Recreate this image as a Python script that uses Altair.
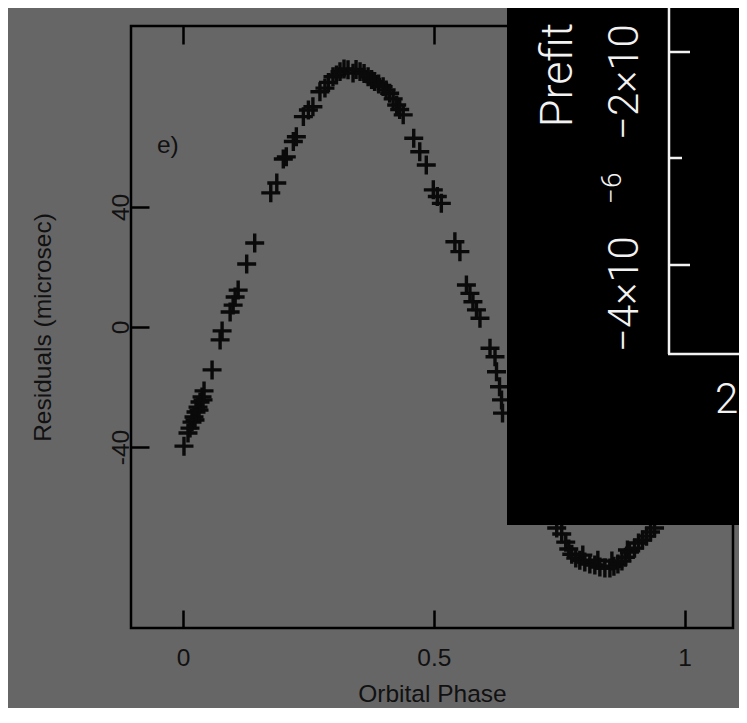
import altair as alt
import pandas as pd

# ---- data (orbital phase, residuals in microsec) ----
phase = [0.002, 0.010, 0.014, 0.018, 0.022, 0.024, 0.026, 0.030, 0.032, 0.034, 0.038, 0.040, 0.042,
         0.058, 0.074, 0.078, 0.094, 0.100, 0.104, 0.110, 0.127, 0.143,
         0.175, 0.187, 0.200, 0.206, 0.220, 0.226, 0.240, 0.250, 0.259, 0.273, 0.283, 0.290,
         0.299, 0.306, 0.313, 0.321, 0.329, 0.339, 0.345, 0.353, 0.361, 0.369, 0.376, 0.382,
         0.390, 0.399, 0.405, 0.412, 0.419, 0.426, 0.432, 0.439,
         0.460, 0.472, 0.485, 0.499, 0.507, 0.515, 0.542, 0.552,
         0.565, 0.572, 0.578, 0.585, 0.592, 0.612, 0.622, 0.625, 0.631, 0.635, 0.637,
         0.745, 0.755, 0.763, 0.769, 0.775, 0.783, 0.791, 0.797, 0.801, 0.811, 0.821, 0.827,
         0.831, 0.841, 0.851, 0.855, 0.859, 0.867, 0.875, 0.882, 0.886, 0.890, 0.900, 0.908,
         0.916, 0.924, 0.932, 0.940]
resid = [-39.7, -35.3, -33.7, -31.7, -30.0, -31.0, -28.3, -26.7, -27.7, -25.0, -23.3, -24.3, -21.3,
         -14.3, -4.3, -1.3, 5.0, 7.3, 10.0, 12.3, 21.0, 28.0,
         44.7, 48.0, 56.0, 56.7, 61.8, 63.4, 70.1, 72.3, 73.4, 78.4, 79.6, 81.5,
         83.4, 84.0, 85.1, 86.0, 85.7, 84.6, 85.8, 85.1, 84.5, 83.4, 82.5, 81.8,
         81.0, 80.1, 79.0, 77.9, 76.0, 74.0, 72.5, 70.7,
         62.9, 58.4, 54.0, 45.7, 43.5, 41.2, 28.4, 25.1,
         14.0, 11.2, 8.4, 5.7, 2.9, -7.1, -9.9, -14.9, -19.9, -24.3, -28.7,
         -67.0, -69.0, -71.7, -74.0, -75.7, -77.0, -77.7, -76.0, -78.3, -79.0, -79.3, -77.7,
         -80.0, -80.3, -80.3, -78.0, -79.7, -79.0, -78.0, -76.7, -74.3, -75.0, -73.7, -72.0,
         -71.0, -69.7, -68.3, -67.0]

x_ticks = [0, 0.5, 1]
y_ticks = [-40, 0, 40]
panel_label = ["e)"]
panel_label_x = [-0.052]
panel_label_y = [58]

df = pd.DataFrame({"phase": phase, "resid": resid})
lab = pd.DataFrame({"phase": panel_label_x, "resid": panel_label_y, "txt": panel_label})
one = pd.DataFrame({"k": [0]})

TXT = "#111111"
FONT = "Liberation Sans"
FS = 24.5

xscale = alt.Scale(domain=[-0.1036, 1.0964], nice=False, zero=False)
yscale = alt.Scale(domain=[-100.3, 100.3], nice=False, zero=False)

points = alt.Chart(df).mark_point(
    shape="M-1,0L1,0M0,-1L0,1", filled=False, size=360, strokeWidth=3.4,
    color="#0a0a0a", opacity=1
).encode(
    x=alt.X("phase:Q", scale=xscale,
            axis=alt.Axis(orient="bottom", values=x_ticks, labelExpr="datum.value",
                          offset=-18, tickSize=18, tickWidth=2.5, tickColor="black",
                          domain=False, grid=False, labelPadding=37,
                          labelBaseline="alphabetic", labelFont=FONT, labelFontSize=FS,
                          labelColor=TXT, title="Orbital Phase", titleFont=FONT,
                          titleFontSize=FS, titleFontWeight="normal", titleColor=TXT,
                          titleBaseline="alphabetic", titleY=91)),
    y=alt.Y("resid:Q", scale=yscale,
            axis=alt.Axis(orient="left", values=y_ticks, labelExpr="datum.value",
                          offset=-18, tickSize=18, tickWidth=2.5, tickColor="black",
                          domain=False, grid=False, labelPadding=3, labelAngle=270,
                          labelAlign="center", labelBaseline="alphabetic",
                          labelFont=FONT, labelFontSize=FS, labelColor=TXT,
                          title="Residuals (microsec)", titleFont=FONT, titleFontSize=FS,
                          titleFontWeight="normal", titleColor=TXT, titleAngle=270,
                          titleAlign="center", titleBaseline="alphabetic",
                          titleX=-99, titleY=301)),
)

label = alt.Chart(lab).mark_text(
    align="left", baseline="alphabetic", font=FONT, fontSize=FS, color=TXT
).encode(
    x=alt.X("phase:Q", scale=xscale,
            axis=alt.Axis(orient="top", values=x_ticks, offset=-18, tickSize=18,
                          tickWidth=2.5, tickColor="black", labels=False,
                          domain=False, grid=False, title=None)),
    y=alt.Y("resid:Q", scale=yscale, axis=None),
    text="txt:N",
)

# ---- pasted black inset (overlay decoration) ----
WHITE = "#f2f2f2"
IFONT = "Roboto"
inset_bg = alt.Chart(one).mark_rect(color="black").encode(
    x=alt.value(376), x2=alt.value(640), y=alt.value(-40), y2=alt.value(499))
inset_v = alt.Chart(one).mark_rule(color=WHITE, strokeWidth=2.5).encode(
    x=alt.value(538), y=alt.value(-40), y2=alt.value(328))
inset_h = alt.Chart(one).mark_rule(color=WHITE, strokeWidth=2.5).encode(
    y=alt.value(328), x=alt.value(537), x2=alt.value(640))
inset_t1 = alt.Chart(one).mark_rule(color=WHITE, strokeWidth=2.5).encode(
    y=alt.value(26), x=alt.value(538), x2=alt.value(559))
inset_t2 = alt.Chart(one).mark_rule(color=WHITE, strokeWidth=2.5).encode(
    y=alt.value(132), x=alt.value(538), x2=alt.value(551))
inset_t3 = alt.Chart(one).mark_rule(color=WHITE, strokeWidth=2.5).encode(
    y=alt.value(239), x=alt.value(538), x2=alt.value(559))
inset_title = alt.Chart(one).mark_text(
    text="Prefit", angle=270, align="center", baseline="alphabetic",
    font=IFONT, fontWeight=300, fontSize=45, color=WHITE
).encode(x=alt.value(441), y=alt.value(49))
inset_l1 = alt.Chart(one).mark_text(
    text="−4×10", angle=270, align="left", baseline="alphabetic",
    font=IFONT, fontWeight=300, fontSize=42, color=WHITE
).encode(x=alt.value(507), y=alt.value(326))
inset_l1s = alt.Chart(one).mark_text(
    text="−6", angle=270, align="left", baseline="alphabetic",
    font=IFONT, fontWeight=300, fontSize=28, color=WHITE
).encode(x=alt.value(490), y=alt.value(178))
inset_l2 = alt.Chart(one).mark_text(
    text="−2×10", angle=270, align="left", baseline="alphabetic",
    font=IFONT, fontWeight=300, fontSize=42, color=WHITE
).encode(x=alt.value(507), y=alt.value(114))
inset_x = alt.Chart(one).mark_text(
    text="2", align="left", baseline="alphabetic",
    font=IFONT, fontWeight=300, fontSize=42, color=WHITE
).encode(x=alt.value(584), y=alt.value(387))

chart = alt.layer(
    points, label, inset_bg, inset_v, inset_h, inset_t1, inset_t2, inset_t3,
    inset_title, inset_l1, inset_l1s, inset_l2, inset_x
).resolve_axis(x="independent", y="independent").properties(
    width=602, height=602,
    padding={"left": 123, "top": 18, "right": 6, "bottom": 80},
    autosize=alt.AutoSizeParams(type="none"),
).configure(
    background="#666666"
).configure_view(
    stroke="black", strokeWidth=2.5
)

chart.save("out.html", embed_options={"renderer": "svg", "actions": False})
